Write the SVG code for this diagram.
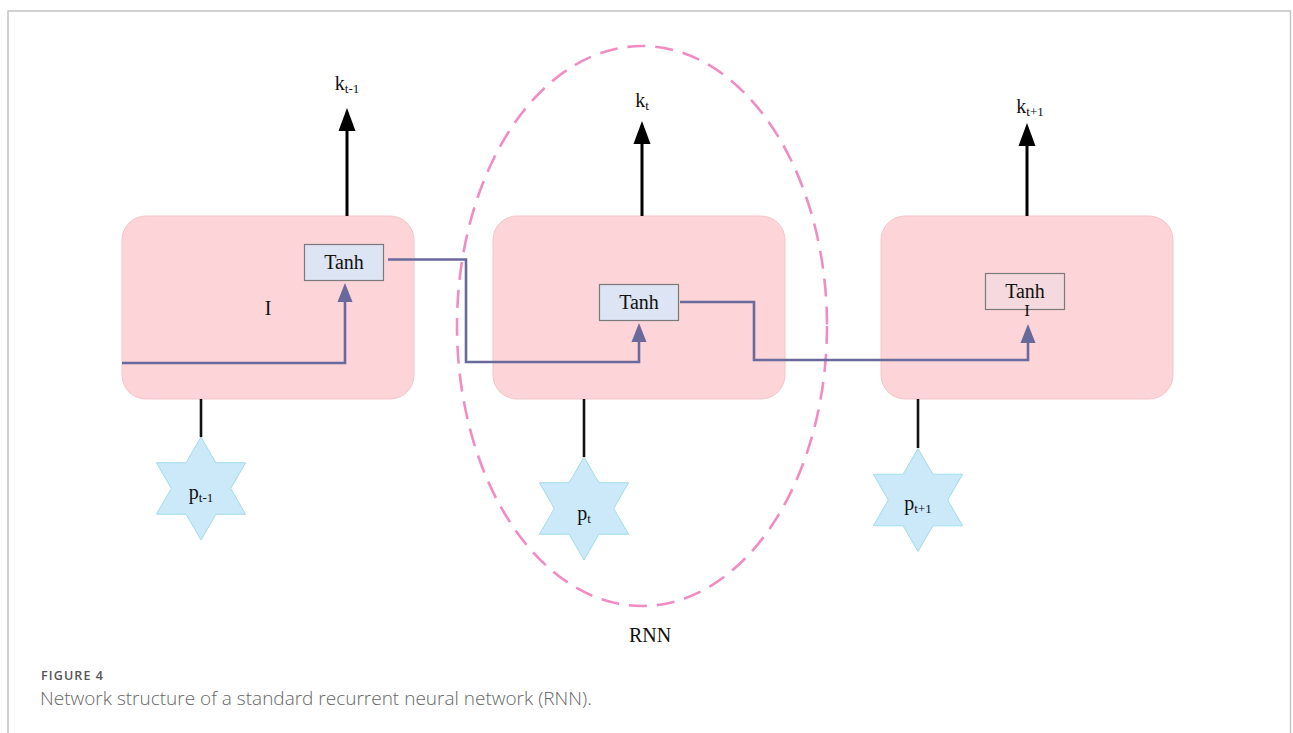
<svg xmlns="http://www.w3.org/2000/svg" width="1293" height="733" viewBox="0 0 1293 733">
  <style>
    .cell { fill: #fdd5d8; stroke: #f6c3c9; stroke-width: 1; }
    .gate { fill: #dde4f3; stroke: #7a7a7a; stroke-width: 1.2; }
    .gate-pink { fill: #f4dade; stroke: #7a7a7a; stroke-width: 1.2; }
    .serif { font-family: "Liberation Serif", "Times New Roman", serif; fill: #111; }
    .lbl { font-size: 20px; text-anchor: middle; }
    .sub { font-size: 13px; }
    .star { fill: #cce9f9; stroke: #9fdde8; stroke-width: 1; }
    .out { stroke: #000; stroke-width: 3; fill: none; }
    .head-out { fill: #000; }
    .rec { stroke: #6a699c; stroke-width: 2.6; fill: none; }
    .head-rec { fill: #6a699c; }
    .inp { stroke: #111; stroke-width: 2.6; }
    .caption { font-family: "Open Sans", "Lato", sans-serif; }
  </style>
  <defs>
    <path id="hexStar" d="M0 -51.5 L14.9 -25.75 L44.6 -25.75 L29.7 0 L44.6 25.75 L14.9 25.75 L0 51.5 L-14.9 25.75 L-44.6 25.75 L-29.7 0 L-44.6 -25.75 L-14.9 -25.75 Z"/>
    <path id="upHead" d="M0 0 L8.5 23 L-8.5 23 Z"/>
    <path id="gateHead" d="M0 0 L7.5 19 L-7.5 19 Z"/>
  </defs>

  <rect width="1293" height="733" fill="#fff"/>
  <!-- figure frame -->
  <path d="M8 745 L8 11 L1290.5 11 L1290.5 745" fill="none" stroke="#c4c4c4" stroke-width="1.5"/>

  <!-- recurrent cells -->
  <g id="cell-prev">
    <rect class="cell" x="122" y="216" width="292" height="183" rx="24"/>
    <rect class="gate" x="304.5" y="244.5" width="79" height="36"/>
    <text class="serif lbl" x="344" y="269">Tanh</text>
    <text class="serif" x="268" y="315" font-size="20" text-anchor="middle">I</text>
  </g>
  <g id="cell-curr">
    <rect class="cell" x="493" y="216" width="292" height="183" rx="24"/>
    <rect class="gate" x="599.5" y="284.5" width="79" height="36"/>
    <text class="serif lbl" x="639" y="309">Tanh</text>
  </g>
  <g id="cell-next">
    <rect class="cell" x="881" y="216" width="292" height="183" rx="24"/>
    <rect class="gate-pink" x="985.5" y="273.5" width="79" height="36"/>
    <text class="serif lbl" x="1025" y="298">Tanh</text>
    <text class="serif" x="1027" y="316" font-size="17" text-anchor="middle">I</text>
  </g>

  <!-- RNN unit outline -->
  <g id="rnn-group">
    <ellipse cx="642" cy="326" rx="185" ry="280" fill="none" stroke="#f08cc2" stroke-width="2.6" stroke-dasharray="18 10"/>
    <text class="serif" x="650" y="642" font-size="20" text-anchor="middle">RNN</text>
  </g>

  <!-- inputs -->
  <g id="input-prev">
    <use href="#hexStar" class="star" x="201" y="488.5"/>
    <text class="serif" x="201" y="499" font-size="20" text-anchor="middle">p<tspan class="sub" dy="3">t-1</tspan></text>
  </g>
  <g id="input-curr">
    <use href="#hexStar" class="star" x="584" y="508.5"/>
    <text class="serif" x="584" y="520" font-size="20" text-anchor="middle">p<tspan class="sub" dy="3">t</tspan></text>
  </g>
  <g id="input-next">
    <use href="#hexStar" class="star" x="918" y="500"/>
    <text class="serif" x="918" y="510" font-size="20" text-anchor="middle">p<tspan class="sub" dy="3">t+1</tspan></text>
  </g>

  <!-- outputs -->
  <g id="output-labels">
    <text class="serif" x="347" y="90" font-size="20" text-anchor="middle">k<tspan class="sub" dy="3">t-1</tspan></text>
    <text class="serif" x="642" y="107" font-size="20" text-anchor="middle">k<tspan class="sub" dy="3">t</tspan></text>
    <text class="serif" x="1030" y="113" font-size="20" text-anchor="middle">k<tspan class="sub" dy="3">t+1</tspan></text>
  </g>

  <!-- connectors -->
  <g id="connectors">
    <line class="out" x1="347" y1="216" x2="347" y2="128"/>
    <use href="#upHead" class="head-out" x="347" y="108"/>
    <line class="out" x1="642" y1="216" x2="642" y2="141"/>
    <use href="#upHead" class="head-out" x="642" y="121"/>
    <line class="out" x1="1027" y1="216" x2="1027" y2="143"/>
    <use href="#upHead" class="head-out" x="1027" y="123"/>

    <line class="inp" x1="201" y1="399" x2="201" y2="437"/>
    <line class="inp" x1="584" y1="399" x2="584" y2="457"/>
    <line class="inp" x1="918" y1="399" x2="918" y2="448"/>

    <path class="rec" d="M122 363 L345 363 L345 300"/>
    <use href="#gateHead" class="head-rec" x="345" y="283"/>
    <path class="rec" d="M388 259.5 L466 259.5 L466 362 L639 362 L639 340"/>
    <use href="#gateHead" class="head-rec" x="639" y="323"/>
    <path class="rec" d="M680 302 L754 302 L754 360 L1028 360 L1028 341"/>
    <use href="#gateHead" class="head-rec" x="1028" y="324"/>
  </g>

  <!-- caption -->
  <g id="caption" class="caption">
    <text x="41" y="680" font-size="12.5" fill="#555" font-weight="600" textLength="62" lengthAdjust="spacing">FIGURE 4</text>
    <text x="40" y="705" font-size="19" fill="#666" font-weight="300">Network structure of a standard recurrent neural network (RNN).</text>
  </g>
</svg>
